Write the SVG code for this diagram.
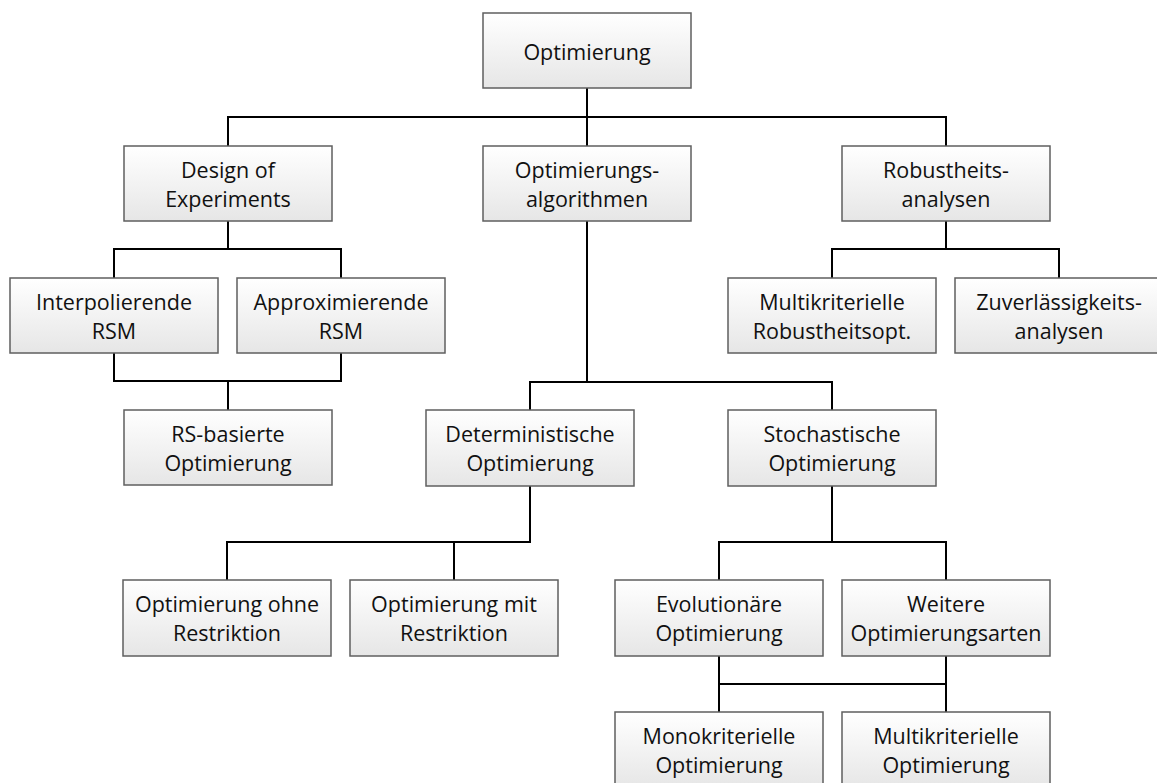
<svg xmlns="http://www.w3.org/2000/svg" width="1157" height="783" viewBox="0 0 1157 783">
  <defs>
    <linearGradient id="boxFill" x1="0" y1="0" x2="0" y2="1">
      <stop offset="0" stop-color="#ffffff"/>
      <stop offset="1" stop-color="#e6e6e6"/>
    </linearGradient>
    <style>
      .box { fill: url(#boxFill); stroke: #5f5f5f; stroke-width: 1.5; }
      .lbl { font-family: "Open Sans", "Liberation Sans", sans-serif; font-size: 21.5px; fill: #111; text-anchor: middle; }
      .conn { fill: none; stroke: #000; stroke-width: 2; }
    </style>
  </defs>
  <rect width="1157" height="783" fill="#ffffff"/>

  <!-- tree connectors -->
  <g id="connectors" class="conn">
    <path d="M587,88 V117 M228,146 V117 H946 V146 M587,117 V146"/>
    <path d="M228,221 V249 M114,278 V249 H341 V278"/>
    <path d="M114,353 V381 H341 V353 M228,381 V410"/>
    <path d="M946,221 V249 M832,278 V249 H1059 V278"/>
    <path d="M587,221 V382 M530,410 V382 H832 V410"/>
    <path d="M530,486 V542 H227 V580 M454,542 V580"/>
    <path d="M832,486 V542 M719,580 V542 H946 V580"/>
    <path d="M719,656 V712 M946,656 V712 M719,684 H946"/>
  </g>

  <g id="n-optimierung">
    <rect class="box" x="483" y="13" width="208" height="75"/>
    <text class="lbl" x="587" y="60">Optimierung</text>
  </g>
  <g id="n-doe">
    <rect class="box" x="124" y="146" width="208" height="75"/>
    <text class="lbl" x="228" y="178">Design of</text>
    <text class="lbl" x="228" y="206.5">Experiments</text>
  </g>
  <g id="n-algorithmen">
    <rect class="box" x="483" y="146" width="208" height="75"/>
    <text class="lbl" x="587" y="178">Optimierungs-</text>
    <text class="lbl" x="587" y="206.5">algorithmen</text>
  </g>
  <g id="n-robustheit">
    <rect class="box" x="842" y="146" width="208" height="75"/>
    <text class="lbl" x="946" y="178">Robustheits-</text>
    <text class="lbl" x="946" y="206.5">analysen</text>
  </g>
  <g id="n-interpolierend">
    <rect class="box" x="10" y="278" width="208" height="75"/>
    <text class="lbl" x="114" y="310">Interpolierende</text>
    <text class="lbl" x="114" y="338.5">RSM</text>
  </g>
  <g id="n-approximierend">
    <rect class="box" x="237" y="278" width="208" height="75"/>
    <text class="lbl" x="341" y="310">Approximierende</text>
    <text class="lbl" x="341" y="338.5">RSM</text>
  </g>
  <g id="n-robustheitsopt">
    <rect class="box" x="728" y="278" width="208" height="75"/>
    <text class="lbl" x="832" y="310">Multikriterielle</text>
    <text class="lbl" x="832" y="338.5">Robustheitsopt.</text>
  </g>
  <g id="n-zuverlaessigkeit">
    <rect class="box" x="955" y="278" width="208" height="75"/>
    <text class="lbl" x="1059" y="310">Zuverlässigkeits-</text>
    <text class="lbl" x="1059" y="338.5">analysen</text>
  </g>
  <g id="n-rs-basiert">
    <rect class="box" x="124" y="410" width="208" height="75"/>
    <text class="lbl" x="228" y="442">RS-basierte</text>
    <text class="lbl" x="228" y="470.5">Optimierung</text>
  </g>
  <g id="n-deterministisch">
    <rect class="box" x="426" y="410" width="208" height="76"/>
    <text class="lbl" x="530" y="442">Deterministische</text>
    <text class="lbl" x="530" y="470.5">Optimierung</text>
  </g>
  <g id="n-stochastisch">
    <rect class="box" x="728" y="410" width="208" height="76"/>
    <text class="lbl" x="832" y="442">Stochastische</text>
    <text class="lbl" x="832" y="470.5">Optimierung</text>
  </g>
  <g id="n-ohne-restriktion">
    <rect class="box" x="123" y="580" width="208" height="76"/>
    <text class="lbl" x="227" y="612">Optimierung ohne</text>
    <text class="lbl" x="227" y="640.5">Restriktion</text>
  </g>
  <g id="n-mit-restriktion">
    <rect class="box" x="350" y="580" width="208" height="76"/>
    <text class="lbl" x="454" y="612">Optimierung mit</text>
    <text class="lbl" x="454" y="640.5">Restriktion</text>
  </g>
  <g id="n-evolutionaer">
    <rect class="box" x="615" y="580" width="208" height="76"/>
    <text class="lbl" x="719" y="612">Evolutionäre</text>
    <text class="lbl" x="719" y="640.5">Optimierung</text>
  </g>
  <g id="n-weitere">
    <rect class="box" x="842" y="580" width="208" height="76"/>
    <text class="lbl" x="946" y="612">Weitere</text>
    <text class="lbl" x="946" y="640.5">Optimierungsarten</text>
  </g>
  <g id="n-monokriteriell">
    <rect class="box" x="615" y="712" width="208" height="76"/>
    <text class="lbl" x="719" y="744">Monokriterielle</text>
    <text class="lbl" x="719" y="772.5">Optimierung</text>
  </g>
  <g id="n-multikriteriell">
    <rect class="box" x="842" y="712" width="208" height="76"/>
    <text class="lbl" x="946" y="744">Multikriterielle</text>
    <text class="lbl" x="946" y="772.5">Optimierung</text>
  </g>
</svg>
